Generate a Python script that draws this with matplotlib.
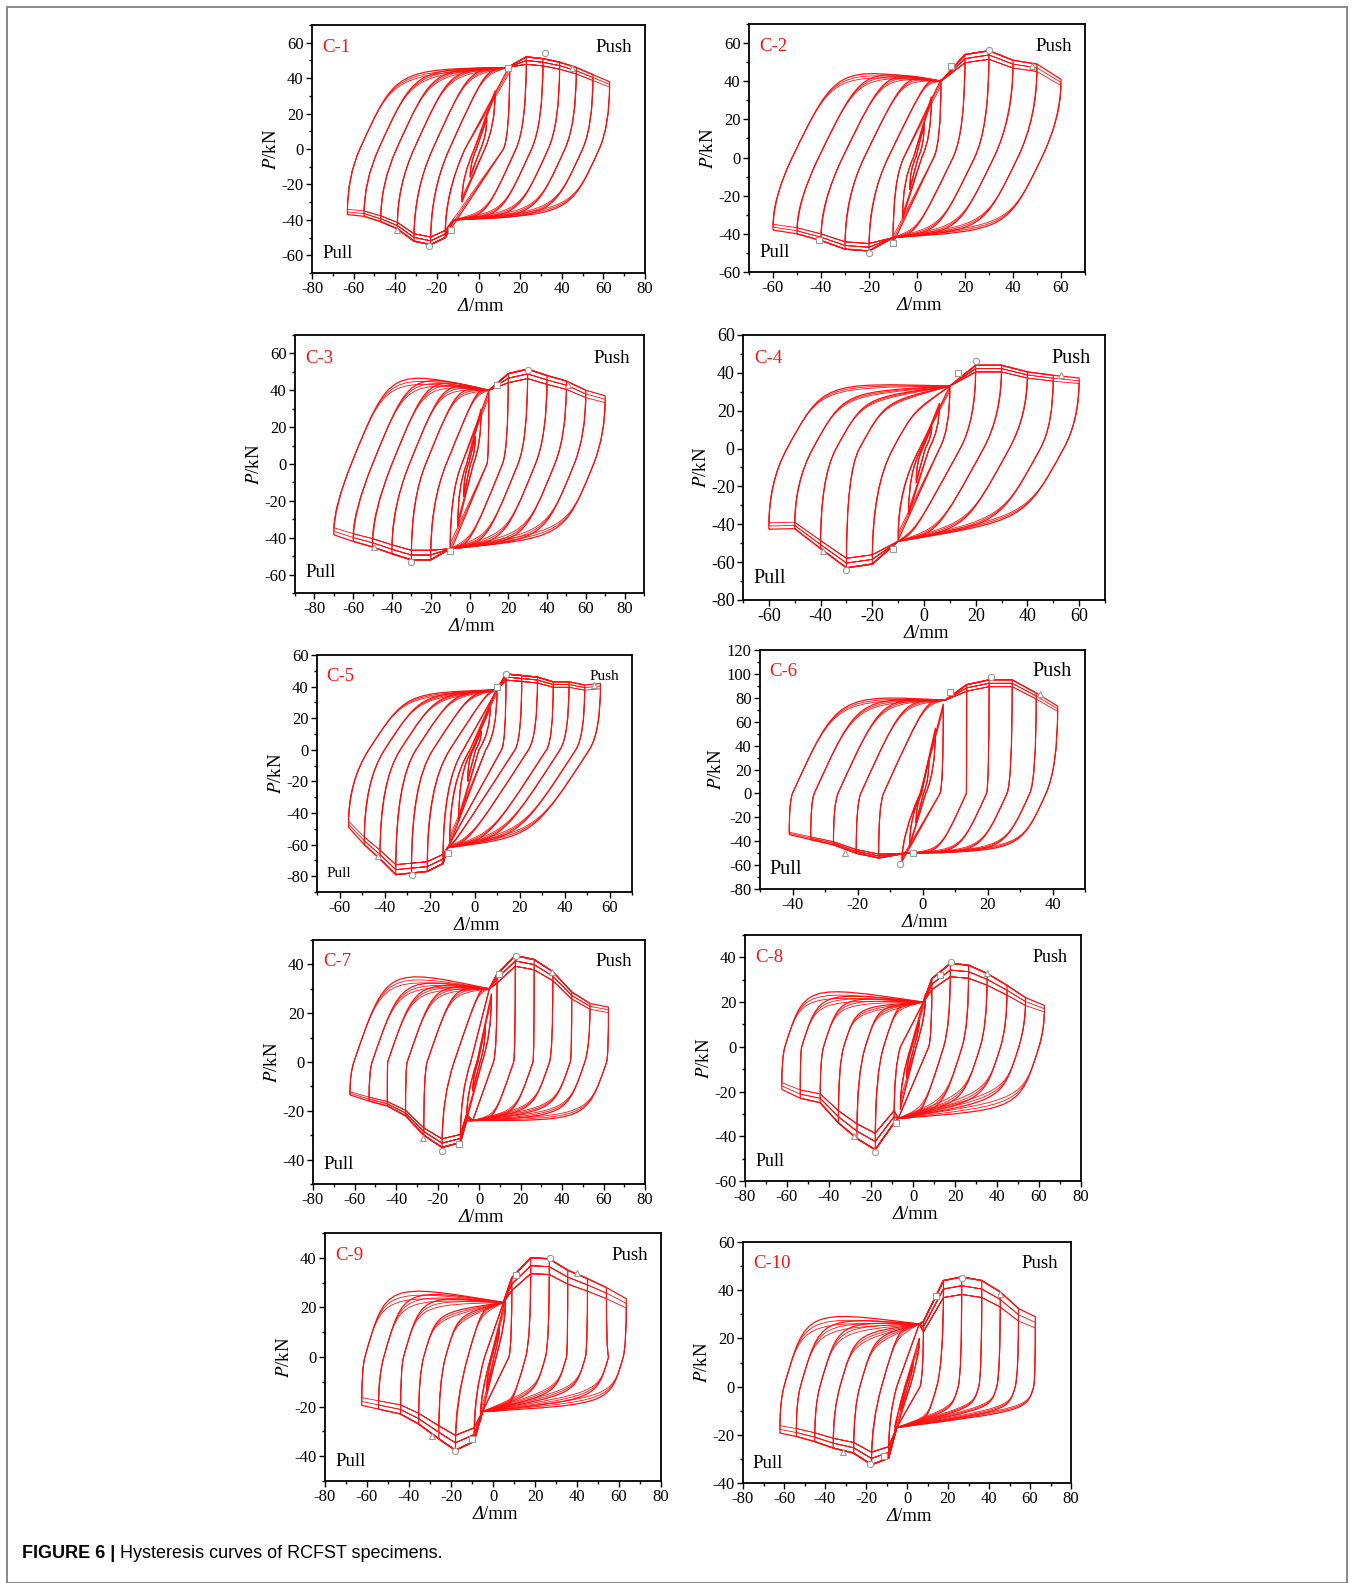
import matplotlib
matplotlib.use("Agg")
import matplotlib.pyplot as plt
from matplotlib.path import Path
from matplotlib.patches import PathPatch, Rectangle
from matplotlib.ticker import MultipleLocator

plt.rcParams['font.family'] = ['Liberation Serif', 'DejaVu Serif']
plt.rcParams['mathtext.fontset'] = 'stix'
plt.rcParams['axes.unicode_minus'] = False

# ---- data (mm, kN) ----
# per specimen: push/pull amplitudes, loads at the amplitude, zero-load crossings
# of the reloading (up) and unloading (dn) branches, plateau levels, pinch points
c1_amp = [4, 8, 15, 23, 31, 39, 47, 55, 63]
c1_push = [18, 33, 47, 52, 51, 49, 46, 42, 38]
c1_neg = [-4, -8, -16, -23, -31, -39, -47, -55, -63]
c1_pull = [-16, -30, -50, -54, -52, -45, -41, -38, -37]
c1_zup = [-1, -2, -6.5, -14, -22, -31, -39.4, -48, -57]
c1_zdn = [1, 3, 12, 18, 25.5, 33.5, 41.5, 50, 58]
c1_hup = [0, 0, 46, 45, 45, 45, 45, 45, 45]
c1_hdn = [0, 0, -40, -38, -38, -38, -38, -38, -37]
c1_kup, c1_kdn = (14, 46), (-12, -40)
c1_marks = [(14, 46, 's'), (32, 54, 'o'), (45, 46, '^'), (-13, -46, 's'), (-24, -55, 'o'), (-39, -46, '^')]

c2_amp = [3, 6, 10, 20, 30, 40, 50, 60]
c2_push = [18, 32, 41, 54, 56, 51, 49, 41]
c2_neg = [-3, -6, -10, -20, -30, -40, -50, -60]
c2_pull = [-17, -32, -45, -49, -48, -43.5, -40, -38]
c2_zup = [-0.5, -1.5, -5.5, -12, -22, -31, -41, -52]
c2_zdn = [0.5, 2, 7, 15, 24, 32, 42, 52]
c2_hup = [0, 0, 40, 42, 44, 46, 47, 48]
c2_hdn = [0, 0, -42, -40, -39, -39, -38, -38]
c2_kup, c2_kdn = (10, 40), (-10, -42)
c2_marks = [(14, 48, 's'), (30, 56.5, 'o'), (48, 48, '^'), (-10, -45, 's'), (-20, -50, 'o'), (-41, -43, 's')]

c3_amp = [3, 6, 10, 20, 30, 40, 50, 60, 70]
c3_push = [15, 30, 40, 49, 51.5, 48, 45, 40, 37]
c3_neg = [-3, -6, -10, -20, -30, -40, -50, -60, -70]
c3_pull = [-18, -34, -48, -52, -52, -48.7, -45, -42, -38.4]
c3_zup = [-0.5, -1.5, -4, -12, -22.6, -31, -40, -50, -61]
c3_zdn = [0.5, 2, 9, 17, 25, 34, 44, 54, 64]
c3_hup = [0, 0, 40, 41, 42, 45, 48, 50, 52]
c3_hdn = [0, 0, -46, -44, -43, -42, -42, -41, -40]
c3_kup, c3_kdn = (10, 40), (-10, -46)
c3_marks = [(14, 43, 's'), (30, 51, 'o'), (51, 43, '^'), (-10, -47, 's'), (-30, -53, 'o'), (-49, -45, '^')]

c4_amp = [3, 6, 10, 20, 30, 40, 50, 60]
c4_push = [12, 24, 33, 44, 44, 40.5, 38.7, 37.3]
c4_neg = [-3, -6, -10, -20, -30, -40, -50, -60]
c4_pull = [-18, -35, -48.4, -61, -63, -52.8, -42.3, -42.6]
c4_zup = [-0.5, -1, -1.7, -12, -25, -34, -43, -53]
c4_zdn = [0.5, 2, 6, 14, 23, 33, 45, 54]
c4_hup = [0, 0, 33, 20, 25, 27, 30, 35]
c4_hdn = [0, 0, -49, -45, -45, -42, -40, -38]
c4_kup, c4_kdn = (10, 33), (-10, -49)
c4_marks = [(13, 40, 's'), (20, 46, 'o'), (53, 39, '^'), (-12, -53, 's'), (-30, -64, 'o'), (-39, -54, '^')]

c5_amp = [3, 7, 10, 14, 21, 28, 35, 42, 49, 56]
c5_push = [12, 28, 39, 48, 47, 46, 43, 43, 41, 42]
c5_neg = [-3, -7, -11, -14, -21, -28, -35, -42, -49, -56]
c5_pull = [-20, -45, -60, -72, -77, -78, -79, -69, -60, -49]
c5_zup = [-0.5, -1, -2, -5, -11, -18.5, -26, -33, -40, -47]
c5_zdn = [0.5, 2, 5, 12, 18, 24, 32, 38, 45, 51]
c5_hup = [0, 0, 0, 38, 37, 36, 36, 35, 35, 36]
c5_hdn = [0, 0, 0, -62, -60, -58, -57, -56, -55, -55]
c5_kup, c5_kdn = (10, 38), (-12, -62)
c5_marks = [(10, 40, 's'), (14, 48, 'o'), (53, 41, '^'), (-12, -65, 's'), (-28, -79, 'o'), (-43, -67, '^')]

c6_amp = [2, 4, 6.4, 13.6, 20.5, 27.6, 35, 41.6]
c6_push = [30, 55, 75, 91, 95, 95, 84, 73]
c6_neg = [-2, -4, -6.3, -13.5, -20.4, -27.4, -34.4, -41]
c6_pull = [-25, -45, -57, -54, -50, -43, -38.7, -34.5]
c6_zup = [-0.3, -0.5, -0.7, -12, -19, -26, -33.3, -40]
c6_zdn = [0.3, 1, 5.4, 13.5, 19.7, 26, 33, 38]
c6_hup = [0, 0, 0, 78, 78, 80, 80, 83]
c6_hdn = [0, 0, 0, -50, -50, -50, -49, -48]
c6_kup, c6_kdn = (7, 78), (-5, -50)
c6_marks = [(8.5, 85, 's'), (21, 97, 'o'), (36, 83, '^'), (-3, -50, 's'), (-7, -59, 'o'), (-24, -50, '^')]

c7_amp = [3, 6, 8.7, 17.5, 26.6, 35.6, 44.7, 53.5, 62.4]
c7_push = [15, 28, 36, 43.6, 42, 37, 28.7, 24, 22.5]
c7_neg = [-3, -6, -9, -17.8, -26.6, -35.4, -44.2, -53, -62.2]
c7_pull = [-12, -24, -33, -35, -30, -22, -18, -16, -13.5]
c7_zup = [-0.5, -1, -4, -12, -25, -34.6, -44, -51.5, -60.3]
c7_zdn = [0.5, 1.5, 7, 16.7, 26, 34, 44, 51, 61.5]
c7_hup = [0, 0, 0, 31, 31, 32, 33, 35, 39]
c7_hdn = [0, 0, 0, -24, -22, -20, -20, -22, -24]
c7_kup, c7_kdn = (5, 30), (-3, -24)
c7_marks = [(9.5, 36, 's'), (18, 43.5, 'o'), (35, 37, '^'), (-9.5, -33.5, 's'), (-18, -36.5, 'o'), (-27, -31, '^')]

c8_amp = [3, 6, 9, 17.8, 26.5, 35.3, 44.8, 53.6, 62.6]
c8_push = [12, 24, 30.5, 37.3, 36.5, 32.8, 27.5, 22, 18.5]
c8_neg = [-3, -6, -9, -18, -26.7, -35.5, -44.2, -53.7, -62.5]
c8_pull = [-14, -28, -34, -46, -41, -34, -25, -23, -19]
c8_zup = [-0.5, -1, -6, -14, -22.7, -33, -42.6, -53, -61]
c8_zdn = [0.5, 1.5, 7.5, 14.6, 23.4, 32, 41.7, 50.4, 60]
c8_hup = [0, 0, 0, 20, 18, 18, 23, 25, 28]
c8_hdn = [0, 0, 0, -32, -28, -25, -24, -24, -28]
c8_kup, c8_kdn = (5, 20), (-7, -32)
c8_marks = [(13, 32, 's'), (18, 38, 'o'), (35, 33, '^'), (-8, -34, 's'), (-18, -47, 'o'), (-28, -40, '^')]

c9_amp = [3, 6, 9, 18, 26.8, 35.6, 45, 54, 63.5]
c9_push = [12, 24, 32, 40, 39.6, 35, 31.6, 28, 23.5]
c9_neg = [-3, -6, -9, -17.9, -25.8, -35.4, -44, -54.5, -62.5]
c9_pull = [-14, -26, -34, -37.6, -33, -27, -23, -21, -19.5]
c9_zup = [-0.5, -1, -4, -12, -22.6, -33, -42.6, -52, -61]
c9_zdn = [0.5, 1.5, 7.6, 15.6, 25, 35, 44, 55, 62]
c9_hup = [0, 0, 0, 20, 17, 18, 25, 28, 30]
c9_hdn = [0, 0, 0, -22, -15, -15, -15, -17, -19]
c9_kup, c9_kdn = (5, 22), (-5, -22)
c9_marks = [(11, 33, 's'), (27, 40, 'o'), (40, 34, '^'), (-10, -33, 's'), (-18, -38, 'o'), (-29, -32, '^')]

c10_amp = [3, 6, 8, 17.8, 26.7, 36.5, 45.5, 54.4, 62.6]
c10_push = [10, 20, 27, 44, 45.5, 44, 39.3, 32.4, 29]
c10_neg = [-3, -6, -9, -17.3, -26, -36, -45, -54, -62]
c10_pull = [-10, -20, -29.7, -32.4, -27.6, -25.5, -22.8, -20.7, -19.3]
c10_zup = [-0.5, -1, -5, -12.4, -23, -32.7, -42.5, -52, -60]
c10_zdn = [0.5, 1.5, 6.4, 14.5, 25, 35, 43.8, 52.8, 61.8]
c10_hup = [0, 0, 0, 24, 21, 22, 27, 29, 32]
c10_hdn = [0, 0, 0, -15, -10, -9, -9, -10, -10]
c10_kup, c10_kdn = (6, 26), (-5, -17)
c10_marks = [(14, 37.5, 's'), (27, 45, 'o'), (45.5, 38.5, '^'), (-11, -29, 's'), (-18, -32, 'o'), (-31, -27, '^')]

names = ['C-1', 'C-2', 'C-3', 'C-4', 'C-5', 'C-6', 'C-7', 'C-8', 'C-9', 'C-10']
amps = [c1_amp, c2_amp, c3_amp, c4_amp, c5_amp, c6_amp, c7_amp, c8_amp, c9_amp, c10_amp]
pushes = [c1_push, c2_push, c3_push, c4_push, c5_push, c6_push, c7_push, c8_push, c9_push, c10_push]
negs = [c1_neg, c2_neg, c3_neg, c4_neg, c5_neg, c6_neg, c7_neg, c8_neg, c9_neg, c10_neg]
pulls = [c1_pull, c2_pull, c3_pull, c4_pull, c5_pull, c6_pull, c7_pull, c8_pull, c9_pull, c10_pull]
zups = [c1_zup, c2_zup, c3_zup, c4_zup, c5_zup, c6_zup, c7_zup, c8_zup, c9_zup, c10_zup]
zdns = [c1_zdn, c2_zdn, c3_zdn, c4_zdn, c5_zdn, c6_zdn, c7_zdn, c8_zdn, c9_zdn, c10_zdn]
hups = [c1_hup, c2_hup, c3_hup, c4_hup, c5_hup, c6_hup, c7_hup, c8_hup, c9_hup, c10_hup]
hdns = [c1_hdn, c2_hdn, c3_hdn, c4_hdn, c5_hdn, c6_hdn, c7_hdn, c8_hdn, c9_hdn, c10_hdn]
kups = [c1_kup, c2_kup, c3_kup, c4_kup, c5_kup, c6_kup, c7_kup, c8_kup, c9_kup, c10_kup]
kdns = [c1_kdn, c2_kdn, c3_kdn, c4_kdn, c5_kdn, c6_kdn, c7_kdn, c8_kdn, c9_kdn, c10_kdn]
marks = [c1_marks, c2_marks, c3_marks, c4_marks, c5_marks, c6_marks, c7_marks, c8_marks, c9_marks, c10_marks]
# reloading stiffness near zero load (kN/mm) and load drop between repeated cycles
slopes = [2.6, 2.6, 2.6, 2.5, 2.2, 6, 2.5, 3, 3, 3]
drops = [0.04, 0.04, 0.05, 0.04, 0.04, 0.03, 0.05, 0.08, 0.08, 0.08]

# ---- layout (pixel boxes of the axes: left, right, top, bottom) ----
W, H = 1354, 1583
boxes = [(312, 645, 25, 273), (749, 1085, 24, 272), (295, 644, 335, 593), (743, 1105, 335, 600),
         (317, 632, 655, 892), (760, 1085, 650, 889), (313, 645, 940, 1184), (745, 1081, 935, 1181),
         (325, 661, 1233, 1481), (743, 1071, 1242, 1483)]
xlims = [(-80, 80), (-70, 70), (-90, 90), (-70, 70), (-70, 70), (-50, 50), (-80, 80), (-80, 80), (-80, 80), (-80, 80)]
ylims = [(-70, 70), (-60, 70), (-70, 70), (-80, 60), (-90, 60), (-80, 120), (-50, 50), (-60, 50), (-50, 50), (-40, 60)]
push_fs = [13.5, 13.5, 13.5, 14.5, 11, 14.5, 13.5, 13, 13.5, 13.5]
tick_fs = [12, 12, 12, 13, 12, 12, 12, 12, 12, 12]

RED = '#ff1010'


def branch(start, zero, hump, knee, backbone, s, sign):
    verts = [start]
    codes = [Path.MOVETO]
    dx = abs(zero[0] - start[0])
    cy = -sign * s * dx
    cy = max(cy, start[1]) if sign > 0 else min(cy, start[1])
    verts += [(start[0], cy), zero]
    codes += [Path.CURVE3, Path.CURVE3]
    if knee is not None:
        qx = zero[0] + sign * abs(hump) / s
        q = (qx, hump) if sign * (qx - knee[0]) < 0 else knee
        verts += [q, q, knee]
        codes += [Path.CURVE4] * 3
    for p in backbone:
        verts.append(p)
        codes.append(Path.LINETO)
    return verts, codes


fig = plt.figure(figsize=(W / 100, H / 100), dpi=100)

for n in range(10):
    l, r, t, b = boxes[n]
    ax = fig.add_axes([l / W, 1 - b / H, (r - l) / W, (b - t) / H])
    amp, push, neg, pull = amps[n], pushes[n], negs[n], pulls[n]
    kup, kdn, s = kups[n], kdns[n], slopes[n]
    for i in range(len(amp)):
        elastic = amp[i] <= kup[0] + 1.5
        for k in range(3):
            f = 1 - drops[n] * k
            E = (amp[i], push[i] * f)
            S = (neg[i], pull[i] * f)
            if elastic:
                up = branch(S, (zups[n][i], 0), 0, None, [E], s, 1)
                dn = branch(E, (zdns[n][i], 0), 0, None, [S], s, -1)
            else:
                bb_up = [(amp[j], push[j] * f) for j in range(i) if amp[j] > kup[0] + 1.5] + [E]
                bb_dn = [(neg[j], pull[j] * f) for j in range(i) if neg[j] < kdn[0] - 1.5] + [S]
                up = branch(S, (zups[n][i], 0), hups[n][i] * f, kup, bb_up, s, 1)
                dn = branch(E, (zdns[n][i], 0), hdns[n][i] * f, kdn, bb_dn, s, -1)
            verts = up[0] + dn[0][1:]
            codes = up[1] + dn[1][1:]
            ax.add_patch(PathPatch(Path(verts, codes), fill=False, edgecolor=RED,
                                   lw=0.9 if k == 0 else 0.6))
    for mx, my, mk in marks[n]:
        ax.plot(mx, my, marker=mk, ms=4.5, mfc='white', mec='#9a9a9a', mew=0.8, zorder=5)

    ax.set_xlim(xlims[n])
    ax.set_ylim(ylims[n])
    ax.xaxis.set_major_locator(MultipleLocator(20))
    ax.xaxis.set_minor_locator(MultipleLocator(10))
    ax.yaxis.set_major_locator(MultipleLocator(20))
    ax.yaxis.set_minor_locator(MultipleLocator(10))
    ax.tick_params(which='both', direction='out', top=False, right=False,
                   labelsize=tick_fs[n], width=1, pad=2)
    ax.tick_params(which='major', length=4)
    ax.tick_params(which='minor', length=2)
    for sp in ax.spines.values():
        sp.set_linewidth(1.3)
    ax.set_ylabel(r'$P$/kN', fontsize=13.5, labelpad=1)
    # x label: italic delta followed by upright "/mm"
    d = ax.annotate('\u0394', xy=(0.5, 0), xycoords='axes fraction', xytext=(-7, -18),
                    textcoords='offset points', ha='right', va='top', style='italic', fontsize=13.5)
    ax.annotate('/mm', xy=(1, 0), xycoords=d, ha='left', va='bottom', fontsize=13.5)

    ax.text(0.03, 0.91, names[n], transform=ax.transAxes, color=RED, fontsize=13.5, va='center')
    ax.text(0.96, 0.91, 'Push', transform=ax.transAxes, fontsize=push_fs[n], va='center', ha='right')
    ax.text(0.03, 0.08, 'Pull', transform=ax.transAxes, fontsize=push_fs[n], va='center')

# outer frame and caption
fig.add_artist(Rectangle((7 / W, 0), (1347 - 7) / W, (1583 - 7) / H, transform=fig.transFigure,
                         fill=False, edgecolor='#808080', lw=1.3))
cap = fig.text(22 / W, 1 - 1553 / H, 'FIGURE 6 |', family='Liberation Sans', weight='bold',
               fontsize=13, va='center')
fig.axes[0].annotate(' Hysteresis curves of RCFST specimens.', xy=(1, 0.5), xycoords=cap,
                     va='center', family='Liberation Sans', fontsize=13, annotation_clip=False)

fig.savefig('out.png', dpi=100)
